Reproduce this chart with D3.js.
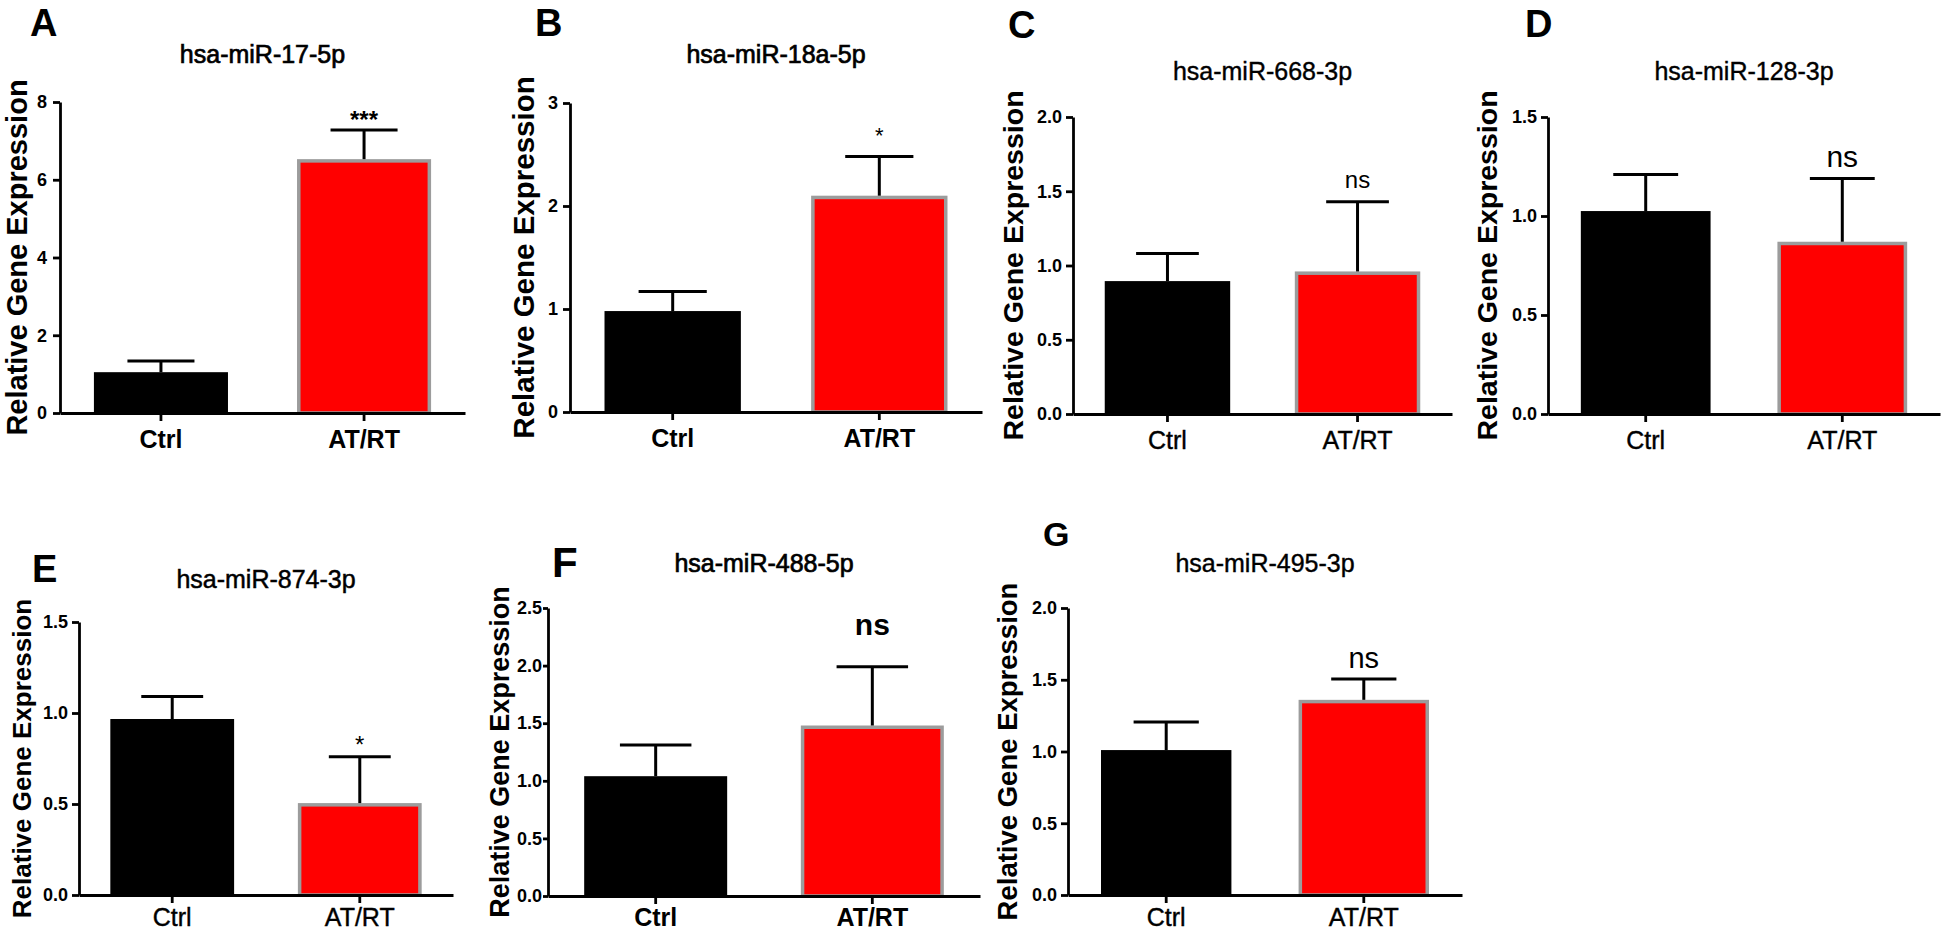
<!DOCTYPE html>
<html><head><meta charset="utf-8">
<script src="https://cdn.jsdelivr.net/npm/d3@7"></script>
<style>body{margin:0;background:#fff} svg text{font-family:"Liberation Sans",Arial,sans-serif;fill:#000}</style>
</head><body><svg id="c" width="1943" height="934"></svg>
<script>
// ---- data ----
const letters = ["A","B","C","D","E","F","G"];
const titles = ["hsa-miR-17-5p","hsa-miR-18a-5p","hsa-miR-668-3p","hsa-miR-128-3p","hsa-miR-874-3p","hsa-miR-488-5p","hsa-miR-495-3p"];
const categories = ["Ctrl","AT/RT"];
const ctrlMean = [1.05, 0.98, 0.895, 1.025, 0.967, 1.04, 1.01];
const ctrlSem  = [0.29, 0.19, 0.185, 0.185, 0.123, 0.27, 0.195];
const atrtMean = [6.53, 2.10, 0.96, 0.87, 0.505, 1.48, 1.36];
const atrtSem  = [0.75, 0.38, 0.47, 0.32, 0.255, 0.51, 0.145];
const yMax  = [8, 3, 2, 1.5, 1.5, 2.5, 2];
const yStep = [2, 1, 0.5, 0.5, 0.5, 0.5, 0.5];
const yFormat = ["d","d",".1f",".1f",".1f",".1f",".1f"];
const significance = ["***","*","ns","ns","*","ns","ns"];
const yAxisTitle = "Relative Gene Expression";

// ---- layout (positions / styles only) ----
const layout = [
 {x0:60,  x1:465,  yT:102, yB:413, lx:30,   ly:36,  ls:38, ty:63,  yl:17,   yls:29,   gap:2,  sigS:24, sigB:true,  xb:true,  tp:6, ts:7, xp:9, tw:0.7},
 {x0:570, x1:982,  yT:103, yB:412, lx:535,  ly:36,  ls:38, ty:63,  yl:523,  yls:29.5, gap:14, sigS:22, sigB:false, xb:true,  tp:5, ts:7, xp:9, tw:0.7},
 {x0:1073,x1:1452, yT:117, yB:414, lx:1008, ly:38,  ls:38, ty:80,  yl:1013, yls:28.5, gap:14, sigS:24, sigB:false, xb:false, tp:4, ts:7, xp:9, tw:0.4},
 {x0:1548,x1:1940, yT:117, yB:414, lx:1525, ly:37,  ls:38, ty:80,  yl:1487, yls:28.5, gap:11, sigS:30, sigB:false, xb:false, tp:4, ts:7, xp:9, tw:0.4},
 {x0:79,  x1:453,  yT:622, yB:895, lx:32,   ly:582, ls:38, ty:588, yl:22,   yls:26,   gap:4,  sigS:24, sigB:false, xb:false, tp:4, ts:7, xp:5, tw:0.5},
 {x0:548, x1:980,  yT:608, yB:896, lx:552,  ly:577, ls:42, ty:572, yl:500,  yls:27,   gap:32, sigS:30, sigB:true,  xb:true,  tp:1, ts:5, xp:4, tw:0.7},
 {x0:1068,x1:1462, yT:608, yB:895, lx:1043, ly:546, ls:34, ty:572, yl:1007, yls:27.5, gap:11, sigS:29, sigB:false, xb:false, tp:4, ts:7, xp:5, tw:0.4}
];

const svg = d3.select("#c");
const fills = ["#000000", "#ff0000"];

letters.forEach((L, i) => {
  const lay = layout[i];
  const g = svg.append("g");
  const means = [ctrlMean[i], atrtMean[i]];
  const sems = [ctrlSem[i], atrtSem[i]];
  const data = categories.map((c, k) => ({cat: c, mean: means[k], sem: sems[k], k}));

  const x = d3.scaleBand().domain(categories).range([lay.x0, lay.x1]).paddingInner(0.34).paddingOuter(0.167);
  const y = d3.scaleLinear().domain([0, yMax[i]]).range([lay.yB, lay.yT]);

  // panel letter
  g.append("text").attr("x", lay.lx).attr("y", lay.ly).attr("font-size", lay.ls).attr("font-weight", "bold").text(L);
  // title
  g.append("text").attr("x", (lay.x0 + lay.x1) / 2).attr("y", lay.ty).attr("text-anchor", "middle")
    .attr("font-size", 25).attr("stroke", "#000").attr("stroke-width", lay.tw).text(titles[i]);
  // y axis title
  g.append("text").attr("transform", `translate(${lay.yl},${(lay.yT + lay.yB) / 2}) rotate(-90)`)
    .attr("text-anchor", "middle").attr("dominant-baseline", "central")
    .attr("font-size", lay.yls).attr("font-weight", "bold").text(yAxisTitle);

  // bars
  g.selectAll("rect.bar").data(data).enter().append("rect")
    .attr("class", "bar")
    .attr("x", d => x(d.cat) + (d.k ? 1.75 : 0))
    .attr("width", d => x.bandwidth() - (d.k ? 3.5 : 0))
    .attr("y", d => y(d.mean) + (d.k ? 1.75 : 0))
    .attr("height", d => y(0) - y(d.mean) - (d.k ? 1.75 : 0))
    .attr("fill", d => fills[d.k])
    .attr("stroke", d => d.k ? "#9c9c9c" : "none")
    .attr("stroke-width", 3.5);

  // error bars (upper only)
  const eb = g.selectAll("g.eb").data(data).enter().append("g").attr("class", "eb")
    .attr("stroke", "#000").attr("stroke-width", 3);
  eb.append("line")
    .attr("x1", d => x(d.cat) + x.bandwidth() / 2).attr("x2", d => x(d.cat) + x.bandwidth() / 2)
    .attr("y1", d => y(d.mean)).attr("y2", d => y(d.mean + d.sem));
  eb.append("line")
    .attr("x1", d => x(d.cat) + x.bandwidth() / 4).attr("x2", d => x(d.cat) + x.bandwidth() * 3 / 4)
    .attr("y1", d => y(d.mean + d.sem)).attr("y2", d => y(d.mean + d.sem));

  // significance label
  const at = data[1];
  g.append("text").attr("x", x(at.cat) + x.bandwidth() / 2).attr("y", y(at.mean + at.sem) - lay.gap)
    .attr("text-anchor", "middle").attr("font-size", lay.sigS)
    .attr("font-weight", lay.sigB ? "bold" : "normal").text(significance[i]);

  // axes
  const ticks = d3.range(0, yMax[i] + yStep[i] / 2, yStep[i]);
  const ya = g.append("g").attr("transform", `translate(${lay.x0},0)`)
    .call(d3.axisLeft(y).tickValues(ticks).tickFormat(d3.format(yFormat[i])).tickSize(lay.ts).tickSizeOuter(0).tickPadding(lay.tp));
  const xa = g.append("g").attr("transform", `translate(0,${lay.yB})`)
    .call(d3.axisBottom(x).tickSize(8).tickSizeOuter(0).tickPadding(lay.xp));
  [ya, xa].forEach(a => {
    a.selectAll("path.domain").attr("stroke-width", 2.8).attr("stroke", "#000");
    a.selectAll(".tick line").attr("stroke-width", 2.8).attr("stroke", "#000");
    a.attr("font-family", null).attr("font-size", null);
  });
  ya.selectAll("text").attr("font-size", 18).attr("font-weight", "bold");
  xa.selectAll("text").attr("font-size", 25).attr("font-weight", lay.xb ? "bold" : "normal")
    .attr("stroke", lay.xb ? "none" : "#000").attr("stroke-width", 0.4);
});
</script></body></html>
